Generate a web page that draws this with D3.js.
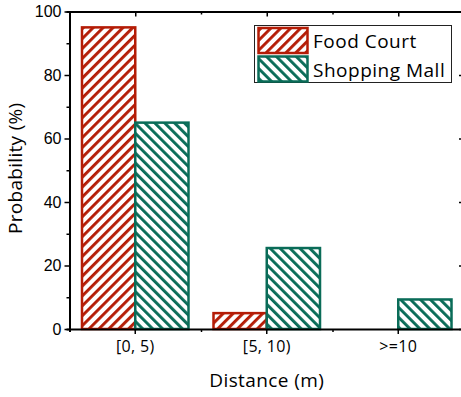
<!DOCTYPE html>
<html>
<head>
<meta charset="utf-8">
<script src="https://cdn.jsdelivr.net/npm/d3@7"></script>
<style>
  html, body { margin: 0; padding: 0; background: #fff; }
  svg { display: block; }
</style>
</head>
<body>
<svg id="chart" width="461" height="397"></svg>
<script>
// Distance bins and probability (%) per venue type
const categories = ["[0, 5)", "[5, 10)", ">=10"];
const seriesNames = ["Food Court", "Shopping Mall"];
const foodCourt = [95, 5, 0];
const shoppingMall = [65, 25.5, 9.3];
const yTicks = [0, 20, 40, 60, 80, 100];

const colors = { "Food Court": "#b41c06", "Shopping Mall": "#0a6c58" };
const hatchDir = { "Food Court": "fwd", "Shopping Mall": "back" };
const seriesValues = { "Food Court": foodCourt, "Shopping Mall": shoppingMall };
const textFont = "Open Sans, Noto Sans, sans-serif";

const svg = d3.select("#chart");
const plotLeft = 69.5, plotRight = 464, plotTop = 11.5, plotBottom = 329;

const x0 = d3.scaleBand().domain(categories).range([plotLeft, plotRight]).padding(0);
const bw = x0.bandwidth();
const x1 = d3.scaleBand().domain(seriesNames).range([bw * 0.095, bw * 0.905]).padding(0);
const y = d3.scaleLinear().domain([0, 100]).range([plotBottom, plotTop]);

// Hatch patterns
const defs = svg.append("defs");
seriesNames.forEach((name, i) => {
  const p = defs.append("pattern")
    .attr("id", "hatch" + i)
    .attr("patternUnits", "userSpaceOnUse")
    .attr("width", 7).attr("height", 7)
    .attr("patternTransform", hatchDir[name] === "fwd" ? "rotate(45)" : "rotate(-45)");
  p.append("rect").attr("width", 7).attr("height", 7).attr("fill", "#fff");
  p.append("rect").attr("x", 0).attr("y", 0).attr("width", 2.9).attr("height", 7)
    .attr("fill", colors[name]);
});

// Bars
const groups = svg.append("g");
categories.forEach((cat, ci) => {
  seriesNames.forEach((name, si) => {
    const v = seriesValues[name][ci];
    if (v <= 0) return;
    groups.append("rect")
      .attr("x", x0(cat) + x1(name))
      .attr("y", y(v))
      .attr("width", x1.bandwidth())
      .attr("height", y(0) - y(v))
      .attr("fill", `url(#hatch${si})`)
      .attr("stroke", colors[name])
      .attr("stroke-width", 2.5);
  });
});

// Axes
const minorY = d3.range(10, 100, 20);
const catCenters = categories.map(c => x0(c) + bw / 2);
const catEdges = categories.slice(1).map(c => x0(c));
const xLin = d3.scaleLinear().domain([plotLeft, plotRight]).range([plotLeft, plotRight]);

// Left axis
const gL = svg.append("g").attr("transform", `translate(${plotLeft},0)`)
  .call(d3.axisLeft(y).tickValues(yTicks).tickSize(5).tickPadding(3));
gL.selectAll("text").attr("font-family", "Liberation Sans, Arial, sans-serif")
  .attr("font-size", 16).attr("fill", "#000");
gL.append("g").call(d3.axisLeft(y).tickValues(minorY).tickSize(3).tickFormat(""));

// Right axis (inward ticks)
const gR = svg.append("g").attr("transform", `translate(${plotRight},0)`)
  .call(d3.axisLeft(y).tickValues(yTicks).tickSize(5).tickFormat(""));
gR.append("g").call(d3.axisLeft(y).tickValues(minorY).tickSize(3).tickFormat(""));

// Bottom axis
const gB = svg.append("g").attr("transform", `translate(0,${plotBottom})`)
  .call(d3.axisBottom(x0).tickSize(5).tickPadding(7));
gB.selectAll("text").attr("font-family", textFont)
  .attr("font-size", 16).attr("fill", "#000").attr("letter-spacing", 0.3);
gB.append("g").call(d3.axisBottom(xLin).tickValues(catEdges).tickSize(3).tickFormat(""));

// Top axis (inward ticks)
const gT = svg.append("g").attr("transform", `translate(0,${plotTop})`)
  .call(d3.axisBottom(xLin).tickValues(catCenters).tickSize(5).tickFormat(""));
gT.append("g").call(d3.axisBottom(xLin).tickValues(catEdges).tickSize(3).tickFormat(""));

svg.selectAll(".domain").attr("stroke", "#000").attr("stroke-width", 2);
svg.selectAll(".tick line").attr("stroke", "#000").attr("stroke-width", 1.5);
// keep only the main domain paths of each axis group
gL.select("g .domain").remove();
gR.select("g .domain").remove();
gB.select("g .domain").remove();
gT.select("g .domain").remove();

// Axis titles
svg.append("text")
  .attr("x", (plotLeft + plotRight) / 2).attr("y", 387)
  .attr("text-anchor", "middle")
  .attr("font-family", textFont)
  .attr("font-size", 19).attr("letter-spacing", 0.4).attr("fill", "#000")
  .text("Distance (m)");
svg.append("text")
  .attr("transform", `translate(22,${(plotTop + plotBottom) / 2 - 2}) rotate(-90)`)
  .attr("text-anchor", "middle")
  .attr("font-family", textFont)
  .attr("font-size", 19).attr("letter-spacing", 0.3).attr("fill", "#000")
  .text("Probability (%)");

// Legend
const lg = svg.append("g");
lg.append("rect").attr("x", 254.5).attr("y", 25.5).attr("width", 197).attr("height", 57)
  .attr("fill", "#fff").attr("stroke", "#222").attr("stroke-width", 1);
seriesNames.forEach((name, i) => {
  const yy = 28 + i * 28.5;
  lg.append("rect").attr("x", 258.5).attr("y", yy).attr("width", 49).attr("height", 25)
    .attr("fill", `url(#hatch${i})`).attr("stroke", colors[name]).attr("stroke-width", 2.5);
  lg.append("text").attr("x", 313).attr("y", yy + 20)
    .attr("font-family", textFont)
    .attr("font-size", 19).attr("letter-spacing", 0.5).attr("fill", "#000")
    .text(name);
});
</script>
</body>
</html>
